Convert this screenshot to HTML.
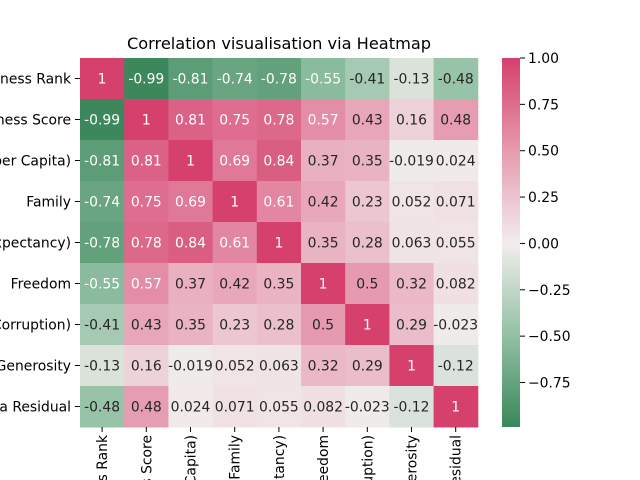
<!DOCTYPE html>
<html><head><meta charset="utf-8"><style>
html,body{margin:0;background:#fff;width:640px;height:480px;overflow:hidden}
svg{font-family:"DejaVu Sans","Liberation Sans",sans-serif;display:block}
</style></head><body>
<svg id="chart" width="640" height="480" viewBox="0 0 640 480">
<defs>
<linearGradient id="cbg" x1="0" y1="1" x2="0" y2="0">
<stop offset="0" stop-color="#3a875a"/>
<stop offset="0.2513" stop-color="#94c1a5"/>
<stop offset="0.4975" stop-color="#f2eded"/>
<stop offset="0.7487" stop-color="#e69ab0"/>
<stop offset="1" stop-color="#d5406d"/>
</linearGradient>
<clipPath id="frame"><rect x="0" y="0" width="640" height="480"/></clipPath>
</defs>
<g clip-path="url(#frame)">
<text x="279" y="49" font-size="16.2" text-anchor="middle">Correlation visualisation via Heatmap</text>
<g id="cells"></g>
<g id="labels"></g>
<rect x="502" y="58" width="18" height="369" fill="url(#cbg)"/>
<g id="cbticks"></g>
</g>
</svg>
<script>
const labels=["Happiness Rank","Happiness Score","Economy (GDP per Capita)","Family","Health (Life Expectancy)","Freedom","Trust (Government Corruption)","Generosity","Dystopia Residual"];
const row0=[1,-0.99,-0.81,-0.74,-0.78,-0.55,-0.41,-0.13,-0.48];
const row1=[-0.99,1,0.81,0.75,0.78,0.57,0.43,0.16,0.48];
const row2=[-0.81,0.81,1,0.69,0.84,0.37,0.35,-0.019,0.024];
const row3=[-0.74,0.75,0.69,1,0.61,0.42,0.23,0.052,0.071];
const row4=[-0.78,0.78,0.84,0.61,1,0.35,0.28,0.063,0.055];
const row5=[-0.55,0.57,0.37,0.42,0.35,1,0.5,0.32,0.082];
const row6=[-0.41,0.43,0.35,0.23,0.28,0.5,1,0.29,-0.023];
const row7=[-0.13,0.16,-0.019,0.052,0.063,0.32,0.29,1,-0.12];
const row8=[-0.48,0.48,0.024,0.071,0.055,0.082,-0.023,-0.12,1];
const matrix=[row0,row1,row2,row3,row4,row5,row6,row7,row8];
const cbTicks=[1.00,0.75,0.50,0.25,0.00,-0.25,-0.50,-0.75];
const vmin=-0.99,vmax=1;
const X0=80,Y0=58,CW=44.2,CH=41;
const cbTop=58,cbBot=427;
const FS="13.9";
const NS="http://www.w3.org/2000/svg";
const stops=[[-1,[58,135,90]],[-0.5,[148,193,165]],[0,[242,237,237]],[0.5,[230,154,176]],[1,[213,64,109]]];
function color(v){
  for(let i=0;i<stops.length-1;i++){
    const [a,ca]=stops[i],[b,cb]=stops[i+1];
    if(v<=b||i==stops.length-2){
      const t=Math.max(0,Math.min(1,(v-a)/(b-a)));
      return "rgb("+ca.map((c,k)=>Math.round(c+(cb[k]-c)*t)).join(",")+")";
    }
  }
}
function mk(tag,attrs,parent){const e=document.createElementNS(NS,tag);for(const k in attrs)e.setAttribute(k,attrs[k]);parent.appendChild(e);return e;}
const cells=document.getElementById("cells"),lab=document.getElementById("labels"),cb=document.getElementById("cbticks");
matrix.forEach((row,r)=>{
  row.forEach((v,c)=>{
    const rect=mk("rect",{x:X0+c*CW,y:Y0+r*CH,width:CW+0.5,height:CH+0.5,fill:color(v)},cells);
    
    
    const t=mk("text",{x:X0+c*CW+CW/2,y:Y0+r*CH+CH/2+5,"font-size":FS,"text-anchor":"middle",fill:Math.abs(v)>0.5?"#fff":"#262626"},cells);
    t.textContent=String(v);
    
    
  });
});
labels.forEach((l,i)=>{
  const y=Y0+i*CH+CH/2;
  mk("line",{x1:75,x2:80,y1:y,y2:y,stroke:"#000","stroke-width":1},lab);
  const t=mk("text",{x:71,y:y+5,"font-size":FS,"text-anchor":"end"},lab);
  t.textContent=l;
  
  
  const x=X0+i*CW+CW/2;
  mk("line",{x1:x,x2:x,y1:427,y2:432,stroke:"#000","stroke-width":1},lab);
  const tx=mk("text",{x:0,y:0,"font-size":FS,"text-anchor":"end",transform:"translate("+(x+5)+",435) rotate(-90)"},lab);
  tx.textContent=l;
  
  
});
function cy(v){return cbTop+(vmax-v)/(vmax-vmin)*(cbBot-cbTop);}
cbTicks.forEach(v=>{
  const y=cy(v);
  mk("line",{x1:520,x2:525,y1:y,y2:y,stroke:"#000","stroke-width":1},cb);
  const t=mk("text",{x:528,y:y+5,"font-size":FS},cb);
  t.textContent=v.toFixed(2).replace("-","\u2212");
  
  
});
</script>
</body></html>
